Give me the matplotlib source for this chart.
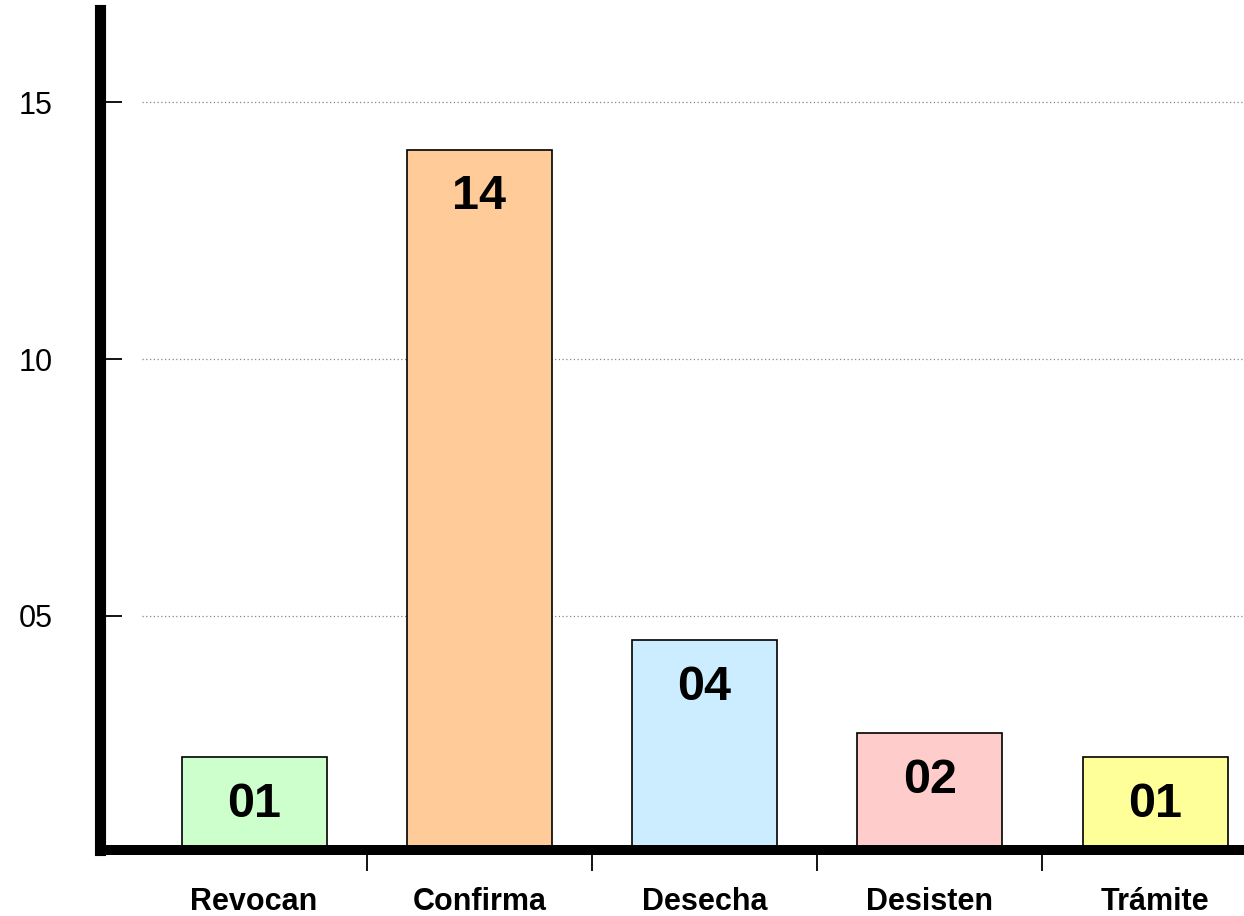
import matplotlib.pyplot as plt
from matplotlib.ticker import FuncFormatter

plt.rcParams["font.family"] = ["Liberation Sans", "DejaVu Sans"]

categories = ["Revocan", "Confirma", "Desecha", "Desisten", "Trámite"]
bar_tops = [2.25, 14.08, 4.53, 2.72, 2.25]  # heights as drawn in the picture
bar_labels = ["01", "14", "04", "02", "01"]
colors = ["#CCFFCC", "#FFCC99", "#CCECFF", "#FFCCCC", "#FFFF99"]
y_ticks = [5, 10, 15]


def main():
    fig = plt.figure(figsize=(12.44, 9.16), dpi=100)
    ax = fig.add_axes([100 / 1244, (916 - 850) / 916, 1144 / 1244, 840 / 916])

    x = list(range(len(categories)))
    ax.bar(x, bar_tops, width=0.644, color=colors, edgecolor="black",
           linewidth=1.2, zorder=3)

    for xi, top, lab in zip(x, bar_tops, bar_labels):
        ax.annotate(lab, (xi, top), xytext=(0, -34), textcoords="offset points",
                    ha="center", va="center", fontsize=35, fontweight="bold",
                    zorder=4)

    for v in y_ticks:
        ax.axhline(v, xmin=0.037, xmax=1, color="#888888", linestyle=(0, (1, 2)),
                   linewidth=0.9, zorder=1)

    ax.set_xlim(-0.684, 4.395)
    ax.set_ylim(0.44, 16.8)

    ax.set_yticks(y_ticks)
    ax.yaxis.set_major_formatter(FuncFormatter(lambda v, p: "%02d" % v))
    ax.tick_params(axis="y", direction="in", length=16, width=1.3,
                   labelsize=22, pad=34)

    ax.set_xticks([i + 0.5 for i in x[:-1]])
    ax.set_xticklabels([])
    ax.set_xticks(x, minor=True)
    ax.set_xticklabels(categories, minor=True, fontsize=22, fontweight="bold")
    ax.tick_params(axis="x", which="major", direction="out", length=15, width=1.3)
    ax.tick_params(axis="x", which="minor", length=0, pad=27)

    for s in ["top", "right"]:
        ax.spines[s].set_visible(False)
    ax.spines["left"].set_linewidth(8)
    ax.spines["bottom"].set_linewidth(7.2)
    ax.spines["left"].set_zorder(5)
    ax.spines["bottom"].set_zorder(5)

    plt.savefig("out.png", dpi=100)


if __name__ == '__main__':
    main()
